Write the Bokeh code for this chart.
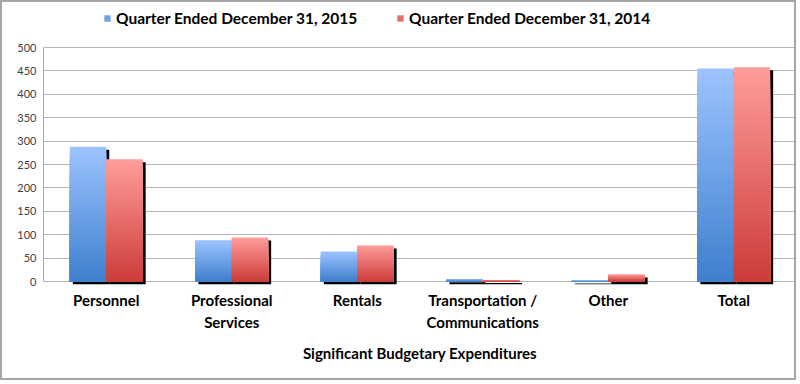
from bokeh.plotting import figure
from bokeh.models import (FactorRange, Range1d, ColumnDataSource, Legend, LegendItem,
                          FixedTicker, CategoricalAxis)
from bokeh.transform import dodge
from bokeh.embed import file_html
from bokeh.resources import INLINE

# ---- data ----
categories = ["Personnel", "Professional Services", "Rentals",
              "Transportation / Communications", "Other", "Total"]
tick_line1 = ["Personnel", "Professional", "Rentals", "Transportation /", "Other", "Total"]
tick_line2 = ["", "Services", "", "Communications", "", ""]
q2015 = [288, 88, 64, 5, 2, 455]
q2014 = [261, 94, 77, 3, 15, 458]
series_names = ["Quarter Ended December 31, 2015", "Quarter Ended December 31, 2014"]
y_ticks = [0, 50, 100, 150, 200, 250, 300, 350, 400, 450, 500]
x_title = "Significant Budgetary Expenditures"

FONT = "Lato"
blue_top, blue_bot = (157, 195, 255), (62, 127, 205)
red_top, red_bot = (255, 157, 154), (204, 60, 57)


def hexc(c):
    return "#%02x%02x%02x" % tuple(int(round(v)) for v in c)


def mix(a, b, t):
    return tuple(a[i] + (b[i] - a[i]) * t for i in range(3))


W, H = 796, 380
B_LEFT, B_RIGHT = 41, 2
ZERO_PX = 279                         # y of the 0 gridline from the top
TOP_PAD_PX = 45                       # y of the 500 gridline from the top
BELOW_ZERO_PX = 3                     # room under the 0 line for the bar shadows
FRAME_H = ZERO_PX + BELOW_ZERO_PX
B_BOTTOM = H - FRAME_H
px_per_unit = (ZERO_PX - TOP_PAD_PX) / 500.0
y_max = 500 + TOP_PAD_PX / px_per_unit
y_min = -BELOW_ZERO_PX / px_per_unit

p = figure(width=W, height=H, x_range=FactorRange(*categories), y_range=Range1d(y_min, y_max),
           output_backend="svg", toolbar_location=None,
           min_border_left=B_LEFT, min_border_right=B_RIGHT, min_border_top=0,
           min_border_bottom=B_BOTTOM)
p.styles = {"border": "2px solid #a6a6a6"}
p.outline_line_color = None
p.background_fill_color = "white"

BW = 0.29
OFF = BW / 2
N = 40

# shadows
sh_px = 3.0
frame_w = W - B_LEFT - B_RIGHT
sh_dx = sh_px / (frame_w / len(categories))
sh_dy = sh_px / px_per_unit
for vals, off in ((q2015, -OFF), (q2014, OFF)):
    src = ColumnDataSource(dict(cat=categories, top=[v - sh_dy for v in vals],
                                bottom=[-sh_dy] * len(vals)))
    p.vbar(x=dodge("cat", off + sh_dx, range=p.x_range), top="top", bottom="bottom",
           width=BW, source=src, fill_color="black", line_color=None)

# gradient bars: nested slices from full height (lightest) down to shortest (darkest)
bar_renderers = []
for vals, off, ctop, cbot in ((q2015, -OFF, blue_top, blue_bot), (q2014, OFF, red_top, red_bot)):
    cat, top, col = [], [], []
    for k in range(N - 1, -1, -1):
        for c, v in zip(categories, vals):
            cat.append(c)
            top.append(v * (k + 1) / N)
            col.append(hexc(mix(cbot, ctop, (k + 0.5) / N)))
    src = ColumnDataSource(dict(cat=cat, top=top, color=col))
    r = p.vbar(x=dodge("cat", off, range=p.x_range), top="top", bottom=0, width=BW,
               source=src, fill_color="color", line_color=None)
    bar_renderers.append(r)

mid_row = (N - 1 - N // 2) * len(categories)
lg = Legend(items=[LegendItem(label=series_names[0], renderers=[bar_renderers[0]], index=mid_row),
                   LegendItem(label=series_names[1], renderers=[bar_renderers[1]], index=mid_row)],
            location=(60, FRAME_H - 26), orientation="horizontal", padding=0, margin=0, spacing=0,
            border_line_color=None, background_fill_alpha=0,
            glyph_width=8, glyph_height=8, label_standoff=5, label_width=280, label_height=20,
            label_text_font=FONT, label_text_font_style="bold",
            label_text_font_size="15.5px", label_text_color="black")
p.add_layout(lg, "center")

# y axis
p.yaxis.ticker = FixedTicker(ticks=y_ticks)
p.yaxis.bounds = (0, 500)
p.yaxis.major_tick_out = 0
p.yaxis.major_tick_in = 0
p.yaxis.minor_tick_line_color = None
p.yaxis.axis_line_color = "#a6a6a6"
p.yaxis.major_label_standoff = 7
p.yaxis.major_label_text_font = FONT
p.yaxis.major_label_text_font_size = "11px"
p.yaxis.major_label_text_color = "#404040"

# category labels in two lines: one axis per line, each on its own factor range
line2_factors = [t if t else " " * (i + 1) for i, t in enumerate(tick_line2)]
p.extra_x_ranges = {
    "line1": FactorRange(*tick_line1),
    "line2": FactorRange(*line2_factors),
    # two factors whose centres sit exactly on the left and right frame edges
    "edges": FactorRange("L", "R", range_padding=-0.5, range_padding_units="absolute"),
}
p.xaxis.visible = False


def style_xaxis(ax, standoff):
    ax.axis_line_color = None
    ax.major_tick_out = 0
    ax.major_tick_in = 0
    ax.major_tick_line_color = None
    ax.major_label_standoff = standoff
    ax.major_label_text_font = FONT
    ax.major_label_text_font_style = "bold"
    ax.major_label_text_font_size = "15px"
    ax.major_label_text_color = "black"


ax1 = CategoricalAxis(x_range_name="line1")
style_xaxis(ax1, 6)
p.add_layout(ax1, "below")
ax2 = CategoricalAxis(x_range_name="line2")
style_xaxis(ax2, 1)
ax2.axis_label = x_title
ax2.axis_label_text_font = FONT
ax2.axis_label_text_font_style = "bold"
ax2.axis_label_text_font_size = "15px"
ax2.axis_label_text_color = "black"
ax2.axis_label_standoff = 10
p.add_layout(ax2, "below")

# vertical boundary lines of the category axis (drawn as long inward ticks at both ends)
ax3 = CategoricalAxis(x_range_name="edges")
ax3.axis_line_color = None
ax3.major_tick_line_color = "#b0b0b0"
ax3.major_tick_in = 80
ax3.major_tick_out = 2
ax3.major_label_text_alpha = 0
ax3.major_label_text_font_size = "1px"
ax3.major_label_standoff = 0
p.add_layout(ax3, "below")

p.xgrid.grid_line_color = None
p.ygrid.grid_line_color = "#b4b4b4"
p.ygrid.grid_line_width = 1

open("out.html", "w").write(file_html(p, INLINE))
